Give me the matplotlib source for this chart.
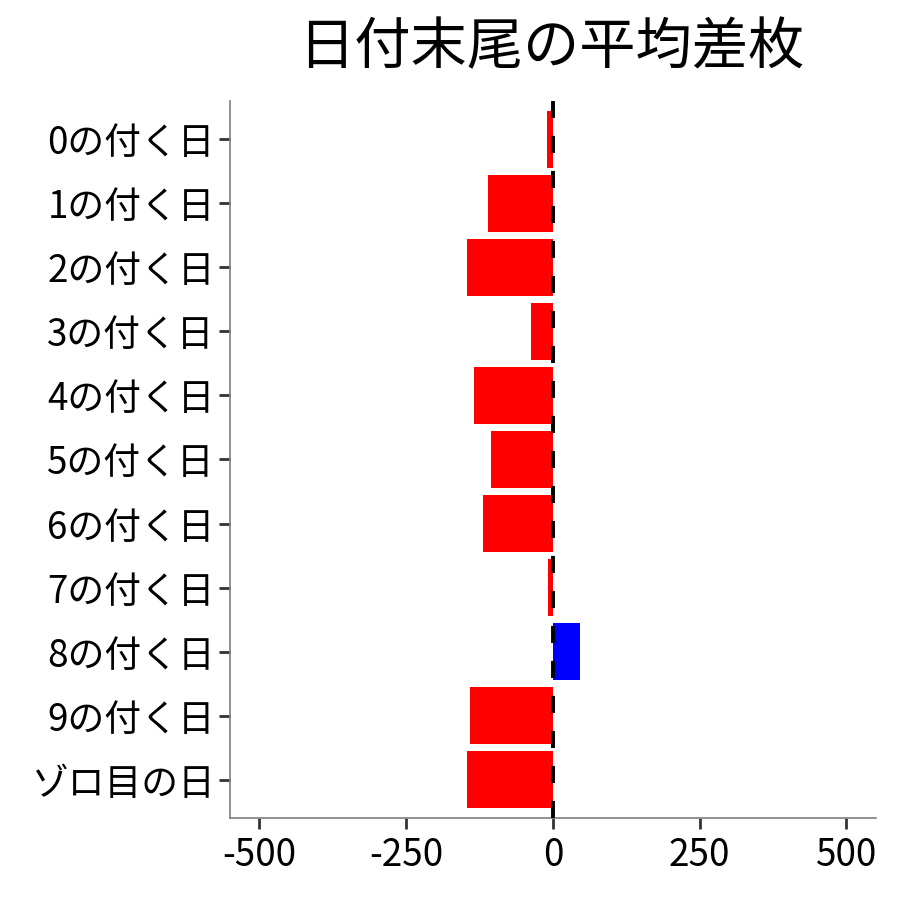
import matplotlib
matplotlib.use("Agg")
import matplotlib.pyplot as plt

plt.rcParams['font.family'] = ['Noto Sans CJK JP', 'DejaVu Sans']

# データ
categories = ["0の付く日", "1の付く日", "2の付く日", "3の付く日", "4の付く日",
              "5の付く日", "6の付く日", "7の付く日", "8の付く日", "9の付く日", "ゾロ目の日"]
avg_diff = [-10, -110, -146, -37, -134, -105, -119, -8, 46, -141, -146]
xticks = [-500, -250, 0, 250, 500]

colors = ["blue" if v > 0 else "red" for v in avg_diff]
ypos = list(range(len(categories)))[::-1]

fig = plt.figure(figsize=(9, 9), dpi=100)
ax = fig.add_axes([0.2556, 0.0911, 0.7174, 0.7967])

ax.barh(ypos, avg_diff, height=0.9, color=colors, zorder=2)
ax.axvline(0, color="black", linestyle=(0, (4.4, 4.6)), linewidth=2.8, zorder=3)

ax.set_xlim(-550, 550)
ax.set_ylim(-0.6, len(categories) - 1 + 0.6)
ax.set_xticks(xticks)
ax.set_xticklabels([str(t) for t in xticks])
ax.set_yticks(ypos)
ax.set_yticklabels(categories)

for s in ["top", "right"]:
    ax.spines[s].set_visible(False)
for s in ["left", "bottom"]:
    ax.spines[s].set_color("#7f7f7f")
    ax.spines[s].set_linewidth(1.2)

ax.tick_params(axis="both", length=8, width=2, color="#333333",
               labelsize=26.5, labelcolor="black", pad=3)
ax.tick_params(axis="x", pad=5)

fig.suptitle("日付末尾の平均差枚", fontsize=40.5, x=0.613, y=0.978)

plt.savefig("out.png", dpi=100)
